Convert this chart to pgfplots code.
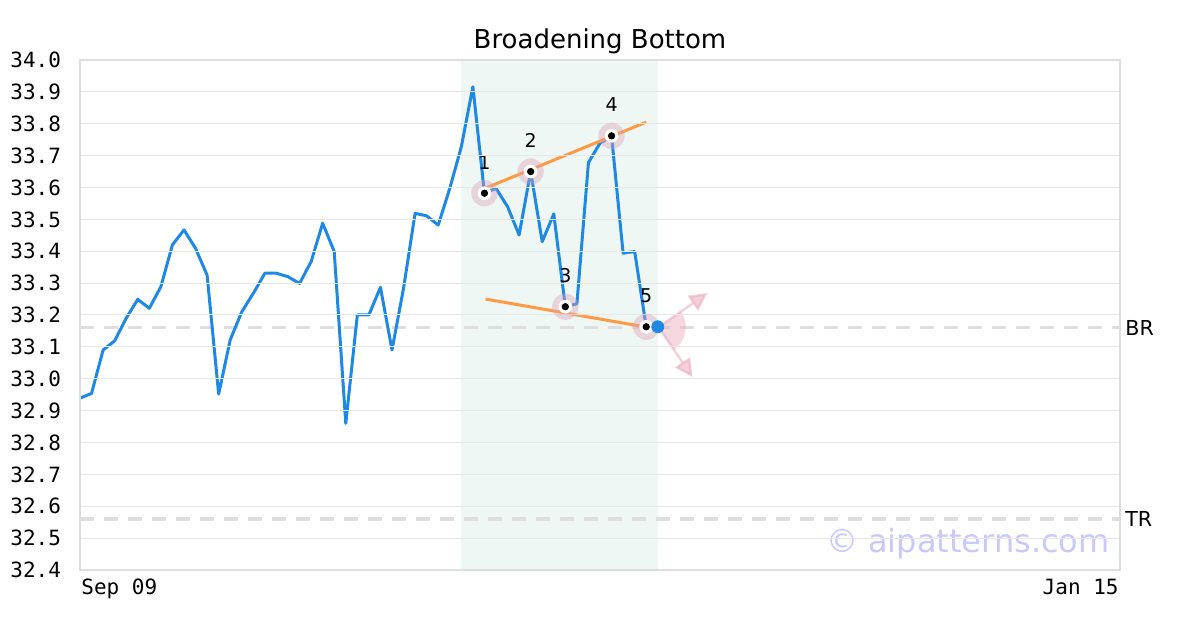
\documentclass[border=0pt]{standalone}
\usepackage{fontspec}
\setmainfont{DejaVu Sans}
\newfontfamily\monofont{DejaVu Sans Mono}
\usepackage{pgfplots}
\usepackage{pgfplotstable}
\pgfplotsset{compat=1.18}
\usetikzlibrary{arrows.meta}
\definecolor{lineblue}{RGB}{30,136,229}
\definecolor{framegray}{RGB}{221,221,221}
\definecolor{gridgray}{RGB}{232,232,232}
\definecolor{dashgray}{RGB}{222,222,222}
\definecolor{mint}{RGB}{239,247,244}
\definecolor{orangeline}{RGB}{255,153,68}
\definecolor{halopink}{RGB}{220,160,180}
\definecolor{arrowpink}{RGB}{235,175,192}
\definecolor{wmark}{RGB}{200,200,250}

\pgfplotstableread{
x y
0 32.939
1 32.954
2 33.090
3 33.119
4 33.190
5 33.249
6 33.221
7 33.289
8 33.420
9 33.467
10 33.409
11 33.325
12 32.952
13 33.122
14 33.210
15 33.268
16 33.331
17 33.331
18 33.320
19 33.299
20 33.367
21 33.488
22 33.399
23 32.860
24 33.200
25 33.200
26 33.287
27 33.090
28 33.284
29 33.519
30 33.511
31 33.482
32 33.597
33 33.728
34 33.916
35 33.582
36 33.597
37 33.540
38 33.451
39 33.650
40 33.430
41 33.517
42 33.226
43 33.235
44 33.678
45 33.739
46 33.762
47 33.394
48 33.399
49 33.163
}\pricedata

\pgfplotstableread{
x y
35 33.582
39 33.650
42 33.226
46 33.762
49 33.163
}\pivots

\begin{document}
\begin{tikzpicture}
\begin{axis}[
  scale only axis, width=520pt, height=255pt,
  xmin=0, xmax=90, ymin=32.4, ymax=34.0,
  axis on top,
  clip=false,
  axis line style={draw=framegray, line width=1pt},
  xtick=\empty,
  ytick={32.4,32.5,32.6,32.7,32.8,32.9,33.0,33.1,33.2,33.3,33.4,33.5,33.6,33.7,33.8,33.9,34.0},
  major tick length=0pt,
  ymajorgrids, grid style={draw=gridgray, line width=0.5pt},
  yticklabel style={font=\monofont\fontsize{10.5}{12}\selectfont, xshift=-6pt},
  /pgf/number format/.cd, fixed, fixed zerofill, precision=1, assume math mode=true,
]
\coordinate (LL) at (rel axis cs:0,0);
\coordinate (UR) at (rel axis cs:1,1);
% shaded pattern region
\addplot[draw=none, fill=mint] coordinates {(33,32.4) (50,32.4) (50,34.0) (33,34.0)} -- cycle;
% support/resistance dashed lines
\addplot[dashgray, line width=1.6pt, dash pattern=on 7pt off 5pt] coordinates {(0,33.16) (90,33.16)};
\addplot[dashgray, line width=1.6pt, dash pattern=on 7pt off 5pt] coordinates {(0,32.56) (90,32.56)};
% price
\addplot[lineblue, line width=1.5pt, line join=round] table[x=x,y=y] {\pricedata};
% trend lines
\addplot[orangeline, line width=1.5pt] coordinates {(35.1,33.598) (49,33.805)};
\addplot[orangeline, line width=1.5pt] coordinates {(35.1,33.250) (49,33.162)};
% direction wedge and arrows
\fill[arrowpink, opacity=0.5] (axis cs:50,33.163) -- ++(-55:14pt) arc[start angle=-55, end angle=34, radius=14pt] -- cycle;
\draw[arrowpink, opacity=0.6, line width=1.2pt, -{Triangle[length=9pt, width=9pt]}] (axis cs:50.4,33.17) -- (axis cs:54.3,33.269);
\draw[arrowpink, opacity=0.6, line width=1.2pt, -{Triangle[length=9pt, width=9pt]}] (axis cs:50.3,33.15) -- (axis cs:53.0,33.005);
% pivots
\addplot[only marks, mark=*, mark size=6.6pt, color=halopink, fill opacity=0.4, draw opacity=0] table[x=x,y=y] {\pivots};
\addplot[only marks, mark=*, mark size=3.2pt, color=white] table[x=x,y=y] {\pivots};
\addplot[only marks, mark=*, mark size=1.6pt, color=black] table[x=x,y=y] {\pivots};
% current point
\addplot[only marks, mark=*, mark size=3pt, color=lineblue] coordinates {(50,33.163)};
% pivot labels
\node[font=\fontsize{9.5}{11}\selectfont] at (axis cs:35,33.582) [yshift=15.5pt] {1};
\node[font=\fontsize{9.5}{11}\selectfont] at (axis cs:39,33.650) [yshift=15.5pt] {2};
\node[font=\fontsize{9.5}{11}\selectfont] at (axis cs:42,33.226) [yshift=15.5pt] {3};
\node[font=\fontsize{9.5}{11}\selectfont] at (axis cs:46,33.762) [yshift=15.5pt] {4};
\node[font=\fontsize{9.5}{11}\selectfont] at (axis cs:49,33.163) [yshift=15.5pt] {5};
% line labels
\node[anchor=west, font=\fontsize{10.3}{12}\selectfont, inner sep=0pt] at (axis cs:90,33.16) [xshift=2.5pt] {BR};
\node[anchor=west, font=\fontsize{10.3}{12}\selectfont, inner sep=0pt] at (axis cs:90,32.56) [xshift=2.5pt] {TR};
% x labels
\node[anchor=north west, inner sep=0pt, font=\monofont\fontsize{10.5}{12}\selectfont] at (rel axis cs:0,0) [xshift=0.5pt, yshift=-4.5pt] {Sep 09};
\node[anchor=north east, inner sep=0pt, font=\monofont\fontsize{10.5}{12}\selectfont] at (rel axis cs:1,0) [xshift=-0.5pt, yshift=-4.5pt] {Jan 15};
% watermark
\node[anchor=base east, inner sep=0pt, text=wmark, font=\fontsize{16}{18}\selectfont] at (rel axis cs:1,0) [xshift=-5pt, yshift=8.5pt] {© aipatterns.com};
% title
\node[anchor=base, inner sep=0pt, font=\fontsize{13}{15}\selectfont] at (rel axis cs:0.5,1) [yshift=5.5pt] {Broadening Bottom};
\end{axis}
\pgfresetboundingbox
\path[use as bounding box] ([shift={(-40pt,-30pt)}]LL) rectangle ([shift={(40pt,30pt)}]UR);
\end{tikzpicture}
\end{document}
